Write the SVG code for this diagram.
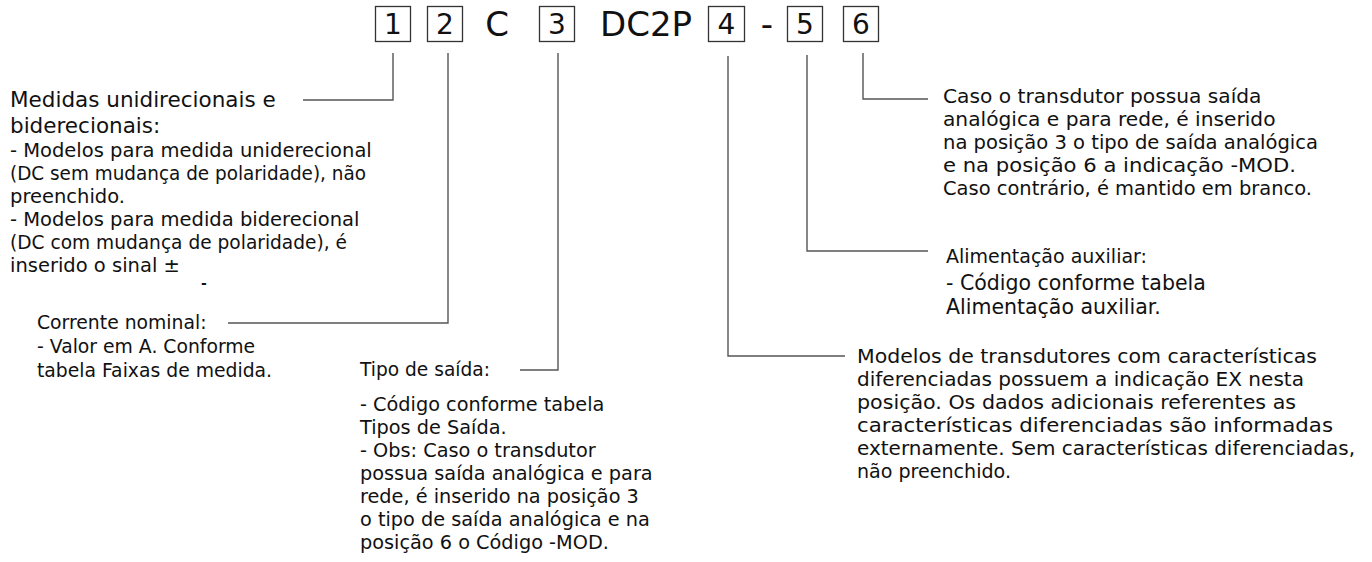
<svg xmlns="http://www.w3.org/2000/svg" width="1372" height="562" viewBox="0 0 1372 562">
<style>
text{font-family:"DejaVu Sans","Verdana",sans-serif;fill:#111}
.h{font-size:28px;text-anchor:middle}
.hl{font-size:34px;text-anchor:middle}
.t{font-size:21.5px}
.l{font-size:19.5px}
.n2{font-size:18.8px}
.n3h{font-size:18.6px}
.n3{font-size:19.3px}
.n4{font-size:20.3px}
.n5h{font-size:19px}
.n5{font-size:20.5px}
.n6{font-size:20.2px}
.box{fill:#fff;stroke:#333;stroke-width:1.3}
.c{fill:none;stroke:#555;stroke-width:1.4}
</style>
<rect width="1372" height="562" fill="#fff"/>
<g id="code">
<g id="pos1"><rect class="box" x="375.5" y="6.5" width="35" height="35"/><text class="h" x="393" y="34">1</text></g>
<g id="pos2"><rect class="box" x="427.5" y="6.5" width="35" height="35"/><text class="h" x="445" y="34">2</text></g>
<text class="hl" x="497" y="36">C</text>
<g id="pos3"><rect class="box" x="539.5" y="6.5" width="35" height="35"/><text class="h" x="557" y="34">3</text></g>
<text class="hl" x="646" y="36">DC2P</text>
<g id="pos4"><rect class="box" x="708.5" y="6.5" width="36" height="35"/><text class="h" x="726.5" y="34">4</text></g>
<text class="hl" x="767" y="36">-</text>
<g id="pos5"><rect class="box" x="787.5" y="6.5" width="35" height="35"/><text class="h" x="805" y="34">5</text></g>
<g id="pos6"><rect class="box" x="843.5" y="6.5" width="35" height="35"/><text class="h" x="861" y="34">6</text></g>
</g>
<g id="connectors">
<path class="c" d="M393,53 V100 H303"/>
<path class="c" d="M448,53 V323 H228"/>
<path class="c" d="M558,53 V370 H520"/>
<path class="c" d="M728,56 V356 H845"/>
<path class="c" d="M807,55 V251 H928"/>
<path class="c" d="M863,53 V99 H928"/>
</g>
<g id="note1">
<text class="t" x="10" y="107">Medidas unidirecionais e</text>
<text class="t" x="10" y="133">biderecionais:</text>
<text class="l" x="10" y="157">- Modelos para medida uniderecional</text>
<text class="l" x="10" y="180" textLength="356" lengthAdjust="spacingAndGlyphs">(DC sem mudança de polaridade), não</text>
<text class="l" x="10" y="203">preenchido.</text>
<text class="l" x="10" y="226">- Modelos para medida biderecional</text>
<text class="l" x="10" y="249" textLength="337" lengthAdjust="spacingAndGlyphs">(DC com mudança de polaridade), é</text>
<text class="l" x="10" y="272">inserido o sinal ±</text>
<text x="201" y="288" style="font-size:14px;font-weight:bold">-</text>
</g>
<g id="note2">
<text class="n2" x="37" y="329">Corrente nominal:</text>
<text class="n2" x="37" y="353">- Valor em A. Conforme</text>
<text class="n2" x="37" y="377">tabela Faixas de medida.</text>
</g>
<g id="note3">
<text class="n3h" x="360" y="376">Tipo de saída:</text>
<text class="n3" x="360" y="411">- Código conforme tabela</text>
<text class="n3" x="360" y="434">Tipos de Saída.</text>
<text class="n3" x="360" y="457">- Obs: Caso o transdutor</text>
<text class="n3" x="360" y="480">possua saída analógica e para</text>
<text class="n3" x="360" y="503">rede, é inserido na posição 3</text>
<text class="n3" x="360" y="526">o tipo de saída analógica e na</text>
<text class="n3" x="360" y="549">posição 6 o Código -MOD.</text>
</g>
<g id="note4">
<text class="n4" x="857" y="363" textLength="460" lengthAdjust="spacingAndGlyphs">Modelos de transdutores com características</text>
<text class="n4" x="857" y="386" textLength="447" lengthAdjust="spacingAndGlyphs">diferenciadas possuem a indicação EX nesta</text>
<text class="n4" x="857" y="409" textLength="439" lengthAdjust="spacingAndGlyphs">posição. Os dados adicionais referentes as</text>
<text class="n4" x="857" y="432" textLength="476" lengthAdjust="spacingAndGlyphs">características diferenciadas são informadas</text>
<text class="n4" x="857" y="455" textLength="498" lengthAdjust="spacingAndGlyphs">externamente. Sem características diferenciadas,</text>
<text class="n4" x="857" y="478" textLength="154" lengthAdjust="spacingAndGlyphs">não preenchido.</text>
</g>
<g id="note5">
<text class="n5h" x="946" y="263">Alimentação auxiliar:</text>
<text class="n5" x="946" y="290">- Código conforme tabela</text>
<text class="n5" x="946" y="314">Alimentação auxiliar.</text>
</g>
<g id="note6">
<text class="n6" x="943" y="103">Caso o transdutor possua saída</text>
<text class="n6" x="943" y="126">analógica e para rede, é inserido</text>
<text class="n6" x="943" y="149" textLength="375" lengthAdjust="spacingAndGlyphs">na posição 3 o tipo de saída analógica</text>
<text class="n6" x="943" y="172" textLength="353" lengthAdjust="spacingAndGlyphs">e na posição 6 a indicação -MOD.</text>
<text class="n6" x="943" y="195" textLength="369" lengthAdjust="spacingAndGlyphs">Caso contrário, é mantido em branco.</text>
</g>
</svg>
